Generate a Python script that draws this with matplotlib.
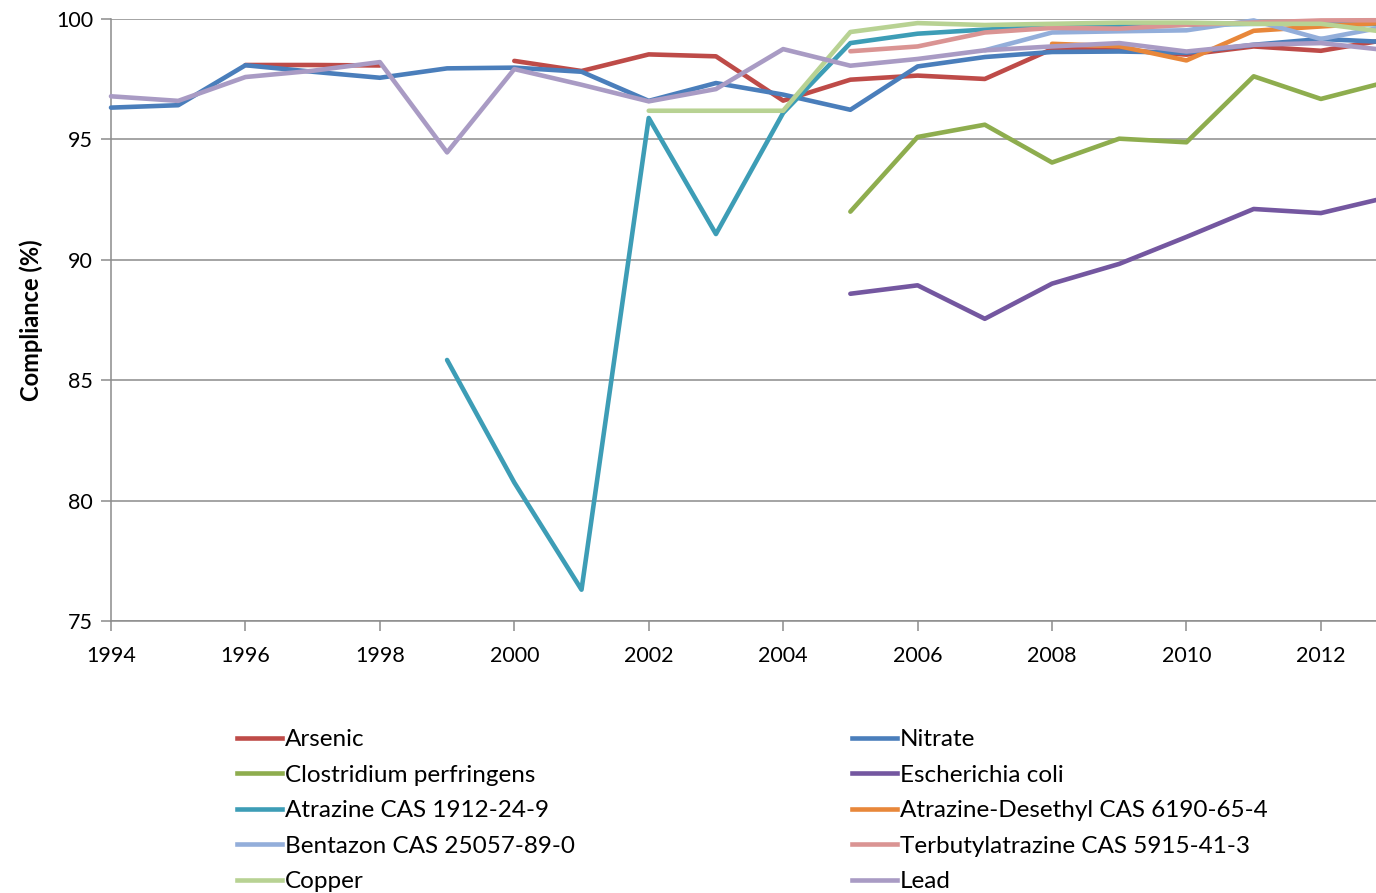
import numpy as np
import matplotlib.pyplot as plt
from matplotlib.lines import Line2D

plt.rcParams['font.family'] = ['Lato', 'DejaVu Sans']

years = np.arange(1994, 2014)
nan = np.nan

# compliance (%) per year, 1994..2013
arsenic = [nan, nan, 98.09, 98.09, 98.07, nan, 98.26, 97.84, 98.53, 98.45,
           96.61, 97.48, 97.65, 97.51, 98.75, 98.72, 98.52, 98.86, 98.68, 99.15]
nitrate = [96.32, 96.42, 98.08, 97.81, 97.56, 97.95, 97.98, 97.81, 96.6, 97.34,
           96.86, 96.23, 98.03, 98.42, 98.63, 98.65, 98.6, 98.93, 99.17, 99.04]
clostridium = [nan]*11 + [92.0, 95.1, 95.61, 94.04, 95.03, 94.88, 97.62, 96.68, 97.4]
ecoli = [nan]*11 + [88.59, 88.94, 87.55, 89.01, 89.83, 90.95, 92.11, 91.94, 92.6]
atrazine = [nan]*5 + [85.84, 80.75, 76.3, 95.89, 91.07, 96.1, 99.0, 99.39, 99.56,
                      99.67, 99.7, 99.76, 99.8, 99.8, 99.78]
desethyl = [nan]*14 + [98.97, 98.87, 98.28, 99.51, 99.69, 99.85]
bentazon = [nan]*13 + [98.7, 99.44, 99.49, 99.53, 99.94, 99.17, 99.7]
terbutyl = [nan]*11 + [98.66, 98.86, 99.44, 99.63, 99.6, 99.76, 99.85, 99.94, 99.95]
copper = [nan]*8 + [96.19, 96.19, 96.19, 99.46, 99.83, 99.75, 99.8, 99.85, 99.85,
                    99.8, 99.8, 99.45]
lead = [96.79, 96.6, 97.59, 97.85, 98.21, 94.46, 97.92, 97.27, 96.58, 97.09,
        98.75, 98.06, 98.34, 98.7, 98.86, 99.0, 98.65, 98.93, 99.0, 98.7]

series = [
    ('Arsenic', arsenic, '#BE4B48'),
    ('Nitrate', nitrate, '#4A7EBB'),
    ('Clostridium perfringens', clostridium, '#8EAD4E'),
    ('Escherichia coli', ecoli, '#7457A0'),
    ('Atrazine CAS 1912-24-9', atrazine, '#3D9DB6'),
    ('Atrazine-Desethyl CAS 6190-65-4', desethyl, '#E8873A'),
    ('Bentazon CAS 25057-89-0', bentazon, '#93AEDA'),
    ('Terbutylatrazine CAS 5915-41-3', terbutyl, '#DA9493'),
    ('Copper', copper, '#B8D293'),
    ('Lead', lead, '#A99BC4'),
]

fig = plt.figure(figsize=(13.76, 8.93), dpi=100)
ax = fig.add_axes([111/1376, 1-621/893, 1-111/1376, (621-19)/893])

handles = {}
for name, vals, col in series:
    ln, = ax.plot(years, vals, color=col, lw=3.3, solid_capstyle='round',
                  solid_joinstyle='round', clip_on=False, zorder=3)
    handles[name] = ln

ax.set_xlim(1994, 2012.82)
ax.set_ylim(75, 100)
ax.set_xticks(np.arange(1994, 2013, 2))
ax.set_yticks(np.arange(75, 101, 5))
ax.yaxis.grid(True, color='#8C8C8C', lw=1.1, zorder=0)
for s in ['top', 'right']:
    ax.spines[s].set_visible(False)
for s in ['left', 'bottom']:
    ax.spines[s].set_color('#8C8C8C')
    ax.spines[s].set_linewidth(1.1)
ax.tick_params(axis='both', colors='#8C8C8C', labelcolor='black',
               labelsize=15.5, length=7, width=1.1)
ax.tick_params(axis='x', pad=11)
ax.tick_params(axis='y', pad=6)
ax.set_ylabel('Compliance (%)', fontsize=17, fontweight='bold', labelpad=9)

col1 = ['Arsenic', 'Clostridium perfringens', 'Atrazine CAS 1912-24-9',
        'Bentazon CAS 25057-89-0', 'Copper']
col2 = ['Nitrate', 'Escherichia coli', 'Atrazine-Desethyl CAS 6190-65-4',
        'Terbutylatrazine CAS 5915-41-3', 'Lead']
for names, xpx in [(col1, 237), (col2, 852)]:
    hs = [Line2D([], [], color=handles[n].get_color(), lw=3.3) for n in names]
    fig.legend(hs, names, loc='upper left', bbox_to_anchor=(xpx/1376, 1-729/893),
               frameon=False, fontsize=17.5, handlelength=1.85, handletextpad=0.12,
               labelspacing=0.6, borderaxespad=0, borderpad=0)

fig.savefig('out.png', dpi=100)
